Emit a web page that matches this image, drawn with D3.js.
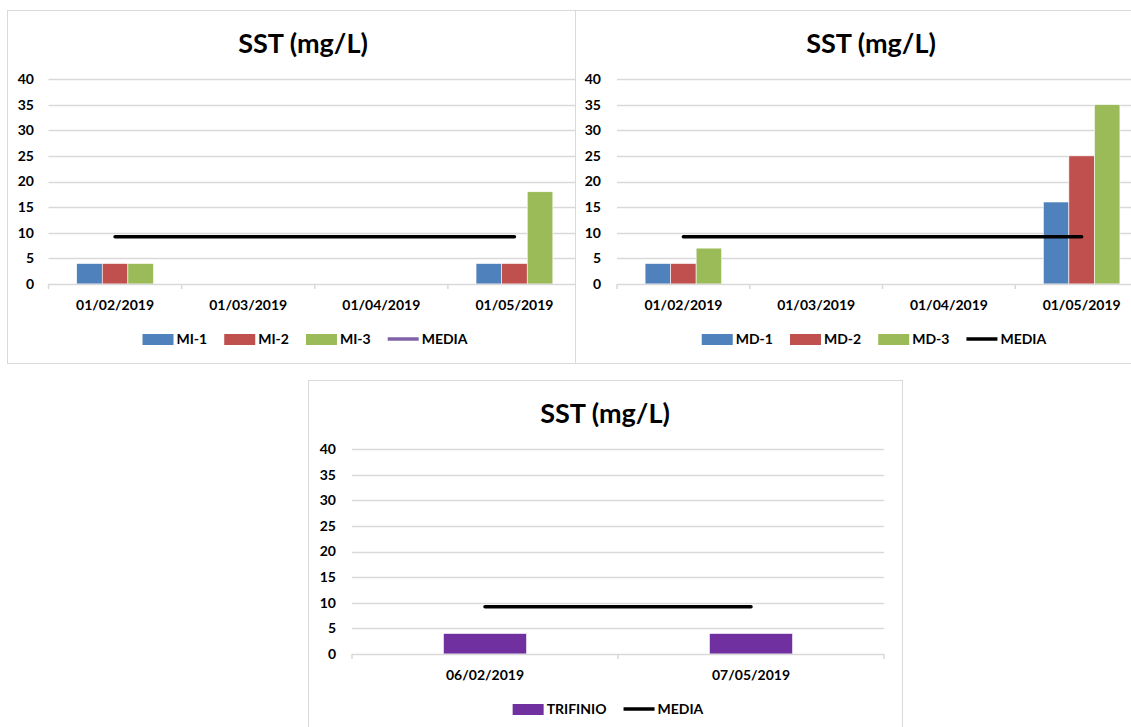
<!DOCTYPE html>
<html>
<head>
<meta charset="utf-8">
<script src="https://cdn.jsdelivr.net/npm/d3@7"></script>
<style>
  html, body { margin: 0; padding: 0; background: #fff; overflow: hidden; }
  svg { display: block; }
  text { font-family: Lato, "Open Sans", "Liberation Sans", sans-serif; font-weight: 700; fill: #000; }
</style>
</head>
<body>
<svg id="chart" width="1131" height="727"></svg>
<script>
// SST (mg/L) sampling results per station
const datesMI = ["01/02/2019", "01/03/2019", "01/04/2019", "01/05/2019"];
const mi1 = [4, null, null, 4];
const mi2 = [4, null, null, 4];
const mi3 = [4, null, null, 18];
const mediaMI = [9.2, 9.2, 9.2, 9.2];

const datesMD = ["01/02/2019", "01/03/2019", "01/04/2019", "01/05/2019"];
const md1 = [4, null, null, 16];
const md2 = [4, null, null, 25];
const md3 = [7, null, null, 35];
const mediaMD = [9.2, 9.2, 9.2, 9.2];

const datesTR = ["06/02/2019", "07/05/2019"];
const trifinio = [4, 4];
const mediaTR = [9.2, 9.2];

const yTicks = [0, 5, 10, 15, 20, 25, 30, 35, 40];
const chartTitle = "SST (mg/L)";

const BLUE = "#4f81bd", RED = "#c0504d", GREEN = "#9bbb59", PURPLE = "#7030a0";
const GRID = "#d9d9d9";
const SMALL = "14px";

const svg = d3.select("#chart");

function drawChart(cfg) {
  const g = svg.append("g");

  // panel frame
  g.append("rect")
    .attr("x", cfg.frame[0] + 0.5).attr("y", cfg.frame[1] + 0.5)
    .attr("width", cfg.frame[2]).attr("height", cfg.frame[3])
    .attr("fill", "#fff").attr("stroke", GRID).attr("stroke-width", 1);

  const x = d3.scaleBand().domain(cfg.categories).range([cfg.left, cfg.right]);
  const y = d3.scaleLinear().domain([0, 40]).range([cfg.bottom, cfg.top]);

  // title
  g.append("text")
    .attr("x", cfg.titleX).attr("y", cfg.titleY)
    .attr("text-anchor", "middle")
    .style("font-size", "27px")
    .text(chartTitle);

  // horizontal gridlines
  g.append("g").selectAll("line").data(yTicks.filter(d => d > 0)).join("line")
    .attr("x1", cfg.left).attr("x2", cfg.right)
    .attr("y1", d => Math.round(y(d)) + 0.5).attr("y2", d => Math.round(y(d)) + 0.5)
    .attr("stroke", GRID).attr("stroke-width", 1.5);

  // y axis labels
  const yAxis = d3.axisLeft(y).tickValues(yTicks).tickSize(0).tickPadding(0);
  const ya = g.append("g").attr("transform", `translate(${cfg.yLabelX},0)`).call(yAxis);
  ya.select(".domain").remove();
  ya.selectAll("text").style("font-size", SMALL).attr("fill", "#000")
    .style("font-family", "Lato, sans-serif").style("font-weight", 700);

  // bars
  const inner = d3.scaleBand().domain(d3.range(cfg.series.length))
    .range([0, x.bandwidth()]).paddingInner(0).paddingOuter(cfg.groupPad);
  cfg.series.forEach((s, i) => {
    g.append("g").selectAll("rect")
      .data(s.values.map((v, j) => ({ c: cfg.categories[j], v })).filter(d => d.v != null))
      .join("rect")
      .attr("x", d => x(d.c) + inner(i))
      .attr("width", inner.bandwidth())
      .attr("y", d => y(d.v))
      .attr("height", d => y(0) - y(d.v))
      .attr("fill", s.color)
      .attr("stroke", "#fff").attr("stroke-width", 0.6);
  });

  // x axis line and category ticks
  const xAxis = d3.axisBottom(x).tickSize(0).tickPadding(0);
  const xa = g.append("g").attr("transform", `translate(0,${cfg.bottom})`).call(xAxis);
  xa.select(".domain").attr("stroke", GRID).attr("stroke-width", 1.5)
    .attr("d", `M${cfg.left},0.5H${cfg.right}`);
  xa.selectAll("text").attr("y", cfg.xLabelDy).attr("dy", 0).attr("fill", "#000")
    .style("font-size", SMALL).style("font-family", "Lato, sans-serif").style("font-weight", 700);
  const edges = cfg.categories.map(c => x(c)).concat([cfg.right]);
  g.append("g").selectAll("line").data(edges).join("line")
    .attr("x1", d => d).attr("x2", d => d)
    .attr("y1", cfg.bottom).attr("y2", cfg.bottom + 5)
    .attr("stroke", GRID).attr("stroke-width", 1.5);

  // MEDIA line through category centres
  const line = d3.line().x((d, j) => x(cfg.categories[j]) + x.bandwidth() / 2).y(d => y(d));
  g.append("path").datum(cfg.media).attr("d", line)
    .attr("fill", "none").attr("stroke", "#000").attr("stroke-width", 3.5)
    .attr("stroke-linecap", "round");

  // legend
  const items = cfg.series.map(s => ({ label: s.name, color: s.color, type: "rect" }))
    .concat([{ label: "MEDIA", color: cfg.mediaLegendColor, type: "line" }]);
  const lg = g.append("g");
  let cx = 0;
  const placed = [];
  items.forEach(it => {
    const t = lg.append("text").attr("y", cfg.legendY + 5).style("font-size", SMALL).text(it.label);
    const w = t.node().getComputedTextLength();
    placed.push({ it, t, x0: cx, w });
    cx += 31 + 3 + w + 17;
  });
  const total = cx - 17;
  const start = cfg.legendCX - total / 2;
  placed.forEach(p => {
    const sx = start + p.x0;
    if (p.it.type === "rect") {
      lg.append("rect").attr("x", sx).attr("y", cfg.legendY - 5).attr("width", 31).attr("height", 11)
        .attr("fill", p.it.color);
    } else {
      lg.append("line").attr("x1", sx).attr("x2", sx + 31)
        .attr("y1", cfg.legendY).attr("y2", cfg.legendY)
        .attr("stroke", p.it.color).attr("stroke-width", 3.5);
    }
    p.t.attr("x", sx + 34);
  });
}

drawChart({
  frame: [7, 10, 574, 353],
  categories: datesMI,
  series: [
    { name: "MI-1", values: mi1, color: BLUE },
    { name: "MI-2", values: mi2, color: RED },
    { name: "MI-3", values: mi3, color: GREEN }
  ],
  media: mediaMI,
  mediaLegendColor: "#7f62a8",
  left: 48.5, right: 581, top: 79, bottom: 284,
  groupPad: 1.1,
  titleX: 303, titleY: 53,
  yLabelX: 34, xLabelDy: 26,
  legendCX: 305, legendY: 339
});

drawChart({
  frame: [575, 10, 570, 353],
  categories: datesMD,
  series: [
    { name: "MD-1", values: md1, color: BLUE },
    { name: "MD-2", values: md2, color: RED },
    { name: "MD-3", values: md3, color: GREEN }
  ],
  media: mediaMD,
  mediaLegendColor: "#000",
  left: 617, right: 1148, top: 79, bottom: 284,
  groupPad: 1.1,
  titleX: 871, titleY: 53,
  yLabelX: 601, xLabelDy: 26,
  legendCX: 874, legendY: 339
});

drawChart({
  frame: [308, 380, 594, 360],
  categories: datesTR,
  series: [
    { name: "TRIFINIO", values: trifinio, color: PURPLE }
  ],
  media: mediaTR,
  mediaLegendColor: "#000",
  left: 352, right: 884, top: 449, bottom: 654,
  groupPad: 1.1,
  titleX: 605, titleY: 423,
  yLabelX: 336, xLabelDy: 26,
  legendCX: 608, legendY: 709
});
</script>
</body>
</html>
